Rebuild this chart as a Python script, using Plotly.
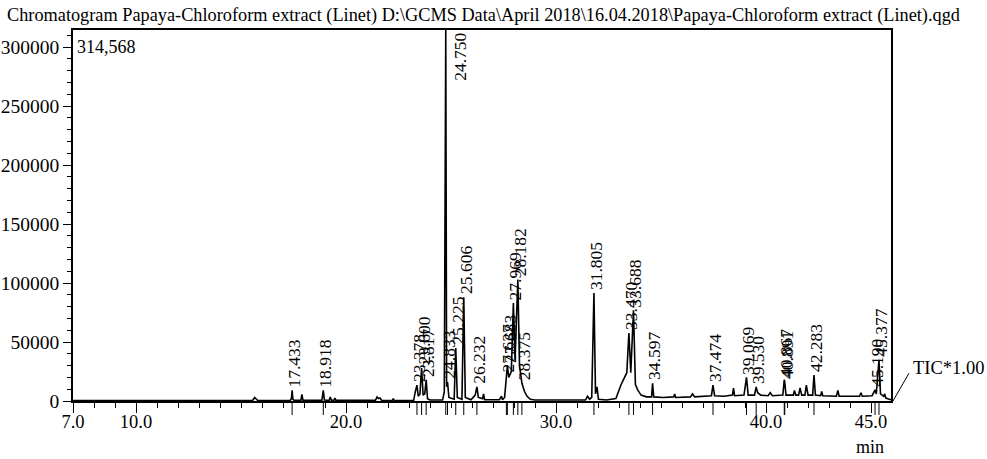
import plotly.graph_objects as go

# ---------------- data ----------------
tic_time = [7.0, 15.55, 15.65, 15.72, 15.8, 17.35, 17.40, 17.433, 17.47, 17.52, 17.85, 17.90, 17.95,
            18.85, 18.918, 18.97, 19.20, 19.25, 19.30, 19.42, 19.47, 19.52, 21.40, 21.48, 21.55, 21.62, 21.70,
            22.20, 22.25, 22.30, 23.22, 23.30, 23.378, 23.44, 23.52, 23.60, 23.67, 23.75, 23.817, 23.88, 24.0,
            24.60, 24.68, 24.75, 24.79, 24.833, 24.90, 25.15, 25.225, 25.30, 25.52, 25.606, 25.68, 25.95,
            26.15, 26.232, 26.30, 26.50, 26.55, 26.60, 27.30, 27.40, 27.45, 27.55, 27.637, 27.683, 27.75,
            27.87, 27.969, 28.05, 28.182, 28.26, 28.375, 28.50, 28.62, 28.78, 29.0, 31.40, 31.50, 31.60,
            31.70, 31.805, 31.88, 31.95, 32.02, 32.40, 32.85, 33.10, 33.37, 33.470, 33.56, 33.688, 33.78,
            33.90, 34.05, 34.30, 34.55, 34.597, 34.65, 35.10, 35.60, 35.65, 35.70, 36.40, 36.50, 36.60,
            37.40, 37.474, 37.55, 38.00, 38.40, 38.45, 38.50, 38.95, 39.069, 39.15, 39.45, 39.530, 39.60,
            39.75, 40.10, 40.20, 40.30, 40.80, 40.867, 40.891, 40.95, 41.30, 41.35, 41.42, 41.55, 41.62,
            41.70, 41.85, 41.92, 42.00, 42.22, 42.283, 42.35, 42.60, 42.65, 42.70, 43.35, 43.42, 43.48,
            44.45, 44.52, 44.58, 45.05, 45.190, 45.25, 45.377, 45.45, 45.60, 45.65, 45.70, 45.95]
tic_intensity = [300, 400, 3000, 1500, 400, 600, 2000, 9000, 1500, 700, 600, 5500, 600,
                 600, 9000, 800, 600, 3500, 600, 600, 2500, 500, 500, 3500, 2000, 2500, 500,
                 400, 2000, 400, 600, 8000, 13500, 4000, 6000, 28000, 5000, 6000, 18000, 2000, 900,
                 800, 8000, 314568, 12000, 16000, 3000, 1500, 45000, 3000, 1500, 88000, 3000, 1000,
                 5000, 12000, 3000, 2000, 6000, 1000, 1000, 4000, 1000, 3000, 22000, 30000, 20000,
                 25000, 83000, 35000, 103000, 30000, 15000, 8000, 4000, 1500, 800, 800, 4000, 1500,
                 3000, 91500, 6000, 12000, 1500, 800, 2000, 14000, 24000, 57600, 24000, 77000, 14000,
                 9000, 5000, 3500, 3500, 15000, 3500, 3000, 3500, 6000, 3000, 3500, 6000, 3500,
                 4500, 13500, 4500, 4000, 5000, 11000, 4500, 5000, 20000, 5000, 5000, 12000, 7000,
                 5000, 4500, 7000, 4500, 5000, 18000, 16000, 5000, 5000, 9000, 5000, 5000, 11000,
                 5000, 5000, 13500, 5000, 5000, 22000, 5000, 4500, 8000, 4500, 4000, 9000, 4000,
                 4000, 7000, 4000, 4500, 9500, 6000, 35000, 6000, 4000, 6000, 2500, 1000]

peak_rt = [17.433, 18.918, 23.378, 23.600, 23.817, 24.750, 24.833, 25.225, 25.606, 26.232,
           27.637, 27.683, 27.969, 28.182, 28.375, 31.805, 33.470, 33.688, 34.597, 37.474,
           39.069, 39.530, 40.867, 40.891, 42.283, 45.190, 45.377]
peak_height = [9000, 9000, 13500, 28000, 18000, 314568, 16000, 45000, 88000, 12000,
               22000, 30000, 83000, 103000, 15000, 91500, 57600, 77000, 15000, 13500,
               20000, 12000, 18000, 16000, 22000, 9500, 35000]

y_max = 314568
y_tick_vals = [0, 50000, 100000, 150000, 200000, 250000, 300000]
y_tick_text = ["0", "50000", "100000", "150000", "200000", "250000", "300000"]
x_tick_vals = [7.0, 10.0, 20.0, 30.0, 40.0, 45.0]
x_tick_text = ["7.0", "10.0", "20.0", "30.0", "40.0", "45.0"]
title_text = r"Chromatogram Papaya-Chloroform extract (Linet) D:\GCMS Data\April 2018\16.04.2018\Papaya-Chloroform extract (Linet).qgd"

FONT = "Liberation Serif"

fig = go.Figure()
fig.add_trace(go.Scatter(x=tic_time, y=tic_intensity, mode="lines",
                         line=dict(color="black", width=1.6), showlegend=False,
                         hoverinfo="skip"))

annotations = []
shapes = []
for rt, h in zip(peak_rt, peak_height):
    label = f"{rt:.3f}"
    if h > 0.8 * y_max:
        annotations.append(dict(x=rt, y=y_max, xref="x", yref="y", text=label,
                                textangle=-90, showarrow=False, xanchor="left",
                                yanchor="top", xshift=2, yshift=-1,
                                font=dict(family=FONT, size=17.5, color="black")))
    else:
        annotations.append(dict(x=rt, y=h, xref="x", yref="y", text=label,
                                textangle=-90, showarrow=False, xanchor="center",
                                yanchor="bottom", xshift=2, yshift=1,
                                font=dict(family=FONT, size=17.5, color="black")))
    shapes.append(dict(type="line", xref="x", yref="paper", x0=rt, x1=rt,
                       y0=0.0, y1=-14 / 371, line=dict(color="black", width=1)))

annotations.append(dict(x=0.003, y=0.955, xref="paper", yref="paper", text="314,568",
                        showarrow=False, xanchor="left", yanchor="middle",
                        font=dict(family=FONT, size=18, color="black")))
annotations.append(dict(x=1.0 + 20 / 818, y=0.088, xref="paper", yref="paper", text="TIC*1.00",
                        showarrow=False, xanchor="left", yanchor="middle",
                        font=dict(family=FONT, size=18.5, color="black")))
shapes.append(dict(type="line", xref="paper", yref="paper", x0=1.0 + 2 / 818, y0=0.0,
                   x1=1.0 + 18 / 818, y1=0.075, line=dict(color="black", width=1)))
annotations.append(dict(x=(870 - 73) / 818, y=(401 - 447) / 371, xref="paper", yref="paper",
                        text="min", showarrow=False, xanchor="center", yanchor="middle",
                        font=dict(family=FONT, size=18, color="black")))

fig.update_layout(
    template="none",
    width=987, height=459, autosize=False,
    margin=dict(l=73, r=96, t=30, b=58),
    paper_bgcolor="white", plot_bgcolor="white",
    title=dict(text=title_text, x=7 / 987, xanchor="left", xref="container",
               y=1 - 15 / 459, yanchor="middle", yref="container",
               font=dict(family=FONT, size=18.3, color="black")),
    annotations=annotations, shapes=shapes,
    font=dict(family=FONT, size=18, color="black"),
)
fig.update_xaxes(range=[7.0, 45.95], tickmode="array", tickvals=x_tick_vals, ticktext=x_tick_text,
                 ticks="outside", ticklen=10, tickwidth=1, tickcolor="black", ticklabelstandoff=-7,
                 minor=dict(dtick=1, tick0=0, ticks="outside", ticklen=5, tickwidth=1, tickcolor="black"),
                 showline=True, linecolor="black", linewidth=1.5, mirror=True,
                 showgrid=False, zeroline=False, automargin=False,
                 tickfont=dict(family=FONT, size=18.5, color="black"))
fig.update_yaxes(range=[0, y_max], tickmode="array", tickvals=y_tick_vals, ticktext=y_tick_text,
                 ticks="outside", ticklen=8, tickwidth=1, tickcolor="black",
                 minor=dict(dtick=10000, tick0=0, ticks="outside", ticklen=4, tickwidth=1, tickcolor="black"),
                 showline=True, linecolor="black", linewidth=1.5, mirror=True,
                 showgrid=False, zeroline=False, automargin=False,
                 tickfont=dict(family=FONT, size=19.5, color="black"))

fig.write_html("out.html")
